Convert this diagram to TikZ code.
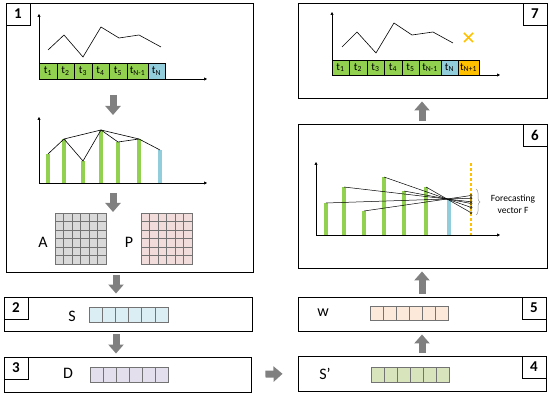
\documentclass[tikz,border=0pt]{standalone}
\usepackage{fontspec}
\setmainfont{Carlito}
\usetikzlibrary{arrows.meta,positioning,calc,fit,decorations.pathreplacing}
\definecolor{StepGreen}{HTML}{92D050}
\definecolor{StepBlue}{HTML}{92CDDC}
\definecolor{StepOrange}{HTML}{FFC000}
\definecolor{MatGray}{HTML}{D9D9D9}
\definecolor{MatPink}{HTML}{F2DCDB}
\definecolor{VecBlue}{HTML}{DAEEF3}
\definecolor{VecLilac}{HTML}{E4DFEC}
\definecolor{VecPeach}{HTML}{FDE9D9}
\definecolor{VecGreen}{HTML}{D8E4BC}
\definecolor{ArrowGray}{HTML}{808080}
\tikzset{
  panel/.style={draw,line width=0.9pt,inner sep=0pt},
  tag/.style={draw,line width=0.9pt,minimum width=24pt,minimum height=22pt,inner sep=0pt,font=\bfseries\fontsize{15}{15}\selectfont},
  fatarrow/.style={draw=ArrowGray,line width=7pt,-{Triangle[length=9pt,width=15pt]},shorten <=3pt,shorten >=3pt},
  axis/.style={line width=0.6pt,-{Triangle[length=3pt,width=3pt]}},
  tick/.style={font=\fontsize{11}{11}\selectfont,inner sep=0pt},
  letter/.style={font=\fontsize{16}{16}\selectfont,inner sep=0pt},
  cellbox/.style={draw=black!55,line width=0.5pt},
}
\begin{document}
\begin{tikzpicture}[x=1pt,y=-1pt]
\useasboundingbox (0,0) rectangle (550,395);
% panels
\node[panel,fit={(6,3) (253,272)}] (b1) {};
\node[panel,fit={(4,297) (252,331)}] (b2) {};
\node[panel,fit={(4,357) (251,392)}] (b3) {};
\node[panel,fit={(298,356) (546,391)}] (b4) {};
\node[panel,fit={(298,297) (546,331)}] (b5) {};
\node[panel,fit={(298,124) (547,268)}] (b6) {};
\node[panel,fit={(298,3) (547,98)}] (b7) {};
\node[tag,anchor=north west] (t1) at (b1.north west) {1};
\node[tag,anchor=north west] (t2) at (b2.north west) {2};
\node[tag,anchor=north west] (t3) at (b3.north west) {3};
\node[tag,anchor=north east] (t4) at (b4.north east) {4};
\node[tag,anchor=north east] (t5) at (b5.north east) {5};
\node[tag,anchor=north east] (t6) at (b6.north east) {6};
\node[tag,anchor=north east] (t7) at (b7.north east) {7};

% panel 1: series
\draw[axis] (39,79) -- (39,14);
\draw[axis] (39,79) -- (207,79);
\draw[line width=0.6pt] (48,50) -- (64,35) -- (83,57) -- (101,27) -- (119,38) -- (139,35) -- (161,47);
\foreach \xa/\xb/\lab/\col in {39/57/1/StepGreen,57/74/2/StepGreen,74/92/3/StepGreen,92/109/4/StepGreen,109/127/5/StepGreen,127/148/N-1/StepGreen,148/165/N/StepBlue}{
  \filldraw[fill=\col,draw=black,line width=0.6pt] (\xa,63) rectangle (\xb,79);
  \node[tick] at ({(\xa+\xb)/2},71) {t\textsubscript{\lab}};
}
\coordinate (c1) at (113,92);
\coordinate (c2) at (113,118);
\draw[fatarrow] (c1) -- (c2);

% panel 1: visibility graph
\draw[axis] (39,183) -- (39,117);
\draw[axis] (39,183) -- (207,183);
\foreach \x/\y in {48/154,64/139,83/161,101/130,118/142,139/139}
  \draw[StepGreen,line width=3.2pt] (\x,183) -- (\x,\y);
\draw[StepBlue,line width=3.2pt] (160,183) -- (160,150);
\draw[line width=0.6pt] (48,154) -- (64,139) -- (83,161) -- (101,130) -- (118,142) -- (139,139) -- (160,150);
\draw[line width=0.6pt] (64,139) -- (101,130) -- (139,139);
\coordinate (c3) at (113,190);
\coordinate (c4) at (113,215);
\draw[fatarrow] (c3) -- (c4);

% panel 1: matrices
\foreach \i in {0,...,5}
  \foreach \j in {0,...,5}{
    \filldraw[fill=MatGray,cellbox] ({55+8.5*\i},{213+8.5*\j}) rectangle +(8.5,8.5);
    \filldraw[fill=MatPink,cellbox] ({141+8.5*\i},{213+8.5*\j}) rectangle +(8.5,8.5);
  }
\node[letter] (mA) at (43,242) {A};
\node[letter] (mP) at (129,242) {P};

% vectors
\foreach \i in {0,...,5}{
  \filldraw[fill=VecBlue,cellbox] ({89+13.17*\i},307) rectangle +(13.17,15);
  \filldraw[fill=VecLilac,cellbox] ({90+13*\i},367) rectangle +(13,15);
  \filldraw[fill=VecPeach,cellbox] ({370+13*\i},306) rectangle +(13,14);
  \filldraw[fill=VecGreen,cellbox] ({371+13*\i},367) rectangle +(13,15);
}
\node[letter] (vS) at (72,316) {S};
\node[letter] (vD) at (68,373) {D};
\node[letter] (vW) at (323,313) {w};
\node[letter] (vS2) at (325,374) {S’};

% panel 6: forecasting
\draw[axis] (316,235) -- (316,162);
\draw[axis] (316,235) -- (500,235);
\draw[StepOrange,line width=1.5pt,dash pattern=on 3pt off 2pt] (471,163) -- (471,235);
\coordinate (cross) at (447,199);
\foreach \x/\y in {326/203,344/187,364/211,384/177,404/191,426/187}
  \draw[StepGreen,line width=3.2pt] (\x,235) -- (\x,\y);
\draw[StepBlue,line width=3.2pt] (449,235) -- (449,199);
\foreach \x/\y/\f in {326/203/1.198,344/187/1.233,364/211/1.289,384/177/1.381,404/191/1.558,426/187/2.143}{
  \draw[line width=0.5pt] (\x,\y) -- ($(\x,\y)!\f!(cross)$) coordinate (fend);
  \filldraw[fill=StepOrange,draw=black,line width=0.4pt] (fend) circle (1.1pt);
}
\draw[black!40,line width=0.5pt,decorate,decoration={brace,amplitude=4pt}] (476,189) -- (476,215);
\node[align=center,font=\fontsize{9.5}{12}\selectfont] (fvec) at (513,204) {Forecasting\\vector F};

% panel 7: result
\draw[axis] (332,75) -- (332,12);
\draw[axis] (332,75) -- (500,75);
\draw[line width=0.6pt] (342,47) -- (357,32) -- (376,53) -- (394,23) -- (412,35) -- (433,32) -- (453,43);
\draw[StepOrange,line width=1.6pt] (464,33) -- (473,42) (464,42) -- (473,33);
\foreach \xa/\xb/\lab/\col in {332/349/1/StepGreen,349/367/2/StepGreen,367/384/3/StepGreen,384/402/4/StepGreen,402/419/5/StepGreen,419/441/N-1/StepGreen,441/458/N/StepBlue,458/479/N+1/StepOrange}{
  \filldraw[fill=\col,draw=black,line width=0.6pt] (\xa,60) rectangle (\xb,75);
  \node[tick] at ({(\xa+\xb)/2},67.5) {t\textsubscript{\lab}};
}

% flow between panels
\coordinate (colL) at (116,0);
\coordinate (colR) at (422,0);
\draw[fatarrow] (b1.south -| colL) -- (b2.north -| colL);
\draw[fatarrow] (b2.south -| colL) -- (b3.north -| colL);
\draw[fatarrow,shorten <=14pt,shorten >=15pt] (b3.east) -- (b4.west);
\draw[fatarrow] (b4.north -| colR) -- (b5.south -| colR);
\draw[fatarrow] (b5.north -| colR) -- (b6.south -| colR);
\draw[fatarrow] (b6.north -| colR) -- (b7.south -| colR);
\end{tikzpicture}
\end{document}
